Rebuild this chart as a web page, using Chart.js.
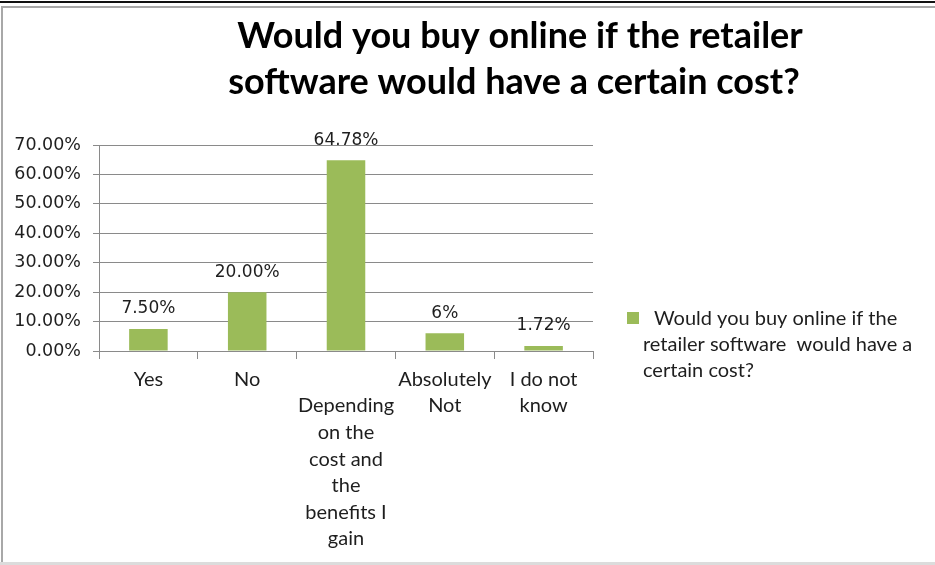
<!DOCTYPE html>
<html>
<head>
<meta charset="utf-8">
<script src="https://cdn.jsdelivr.net/npm/chart.js@4/dist/chart.umd.min.js"></script>
<style>
  html, body { margin: 0; padding: 0; background: #fff; }
  #wrap { width: 935px; height: 565px; position: relative; }
</style>
</head>
<body>
<div id="wrap"><canvas id="c" width="935" height="565"></canvas></div>
<script>
// Survey answers and the share of respondents for each
const categories = [
  ['Yes'],
  ['No'],
  ['', 'Depending', 'on the', 'cost and', 'the', 'benefits I', 'gain'],
  ['Absolutely', 'Not'],
  ['I do not', 'know']
];
const shares = [7.5, 20.0, 64.78, 6, 1.72];
const shareLabels = ['7.50%', '20.00%', '64.78%', '6%', '1.72%'];
const yTicks = [0, 10, 20, 30, 40, 50, 60, 70];
const titleLines = ['Would you buy online if the retailer', 'software would have a certain cost?'];
const legendLines = ['Would you buy online if the', 'retailer software  would have a', 'certain cost?'];

const GREEN = '#9BBB59';
const GRID = '#8a8a8a';
const INK = '#1e1e1e';
const SANS = "'Lato', 'Open Sans', sans-serif";
const NUM = "'DejaVu Sans', Verdana, sans-serif";

// Frame, title, legend and value labels drawn around the plot
const decorations = {
  id: 'decorations',
  beforeDraw(chart) {
    const ctx = chart.ctx;
    ctx.save();
    ctx.fillStyle = '#fff';
    ctx.fillRect(0, 0, chart.width, chart.height);
    // sheet edge and chart frame
    ctx.fillStyle = '#111';
    ctx.fillRect(0, 1, chart.width, 2);
    ctx.fillStyle = '#a8a8a8';
    ctx.fillRect(2, 6, chart.width - 2, 2);
    ctx.fillRect(1, 6, 2, chart.height - 6);
    ctx.fillStyle = '#dcdcdc';
    ctx.fillRect(0, chart.height - 3, chart.width, 3);
    ctx.restore();
  },
  afterDraw(chart) {
    const ctx = chart.ctx;
    ctx.save();
    // title
    ctx.fillStyle = '#000';
    ctx.font = "bold 36px " + SANS;
    ctx.textAlign = 'center';
    ctx.textBaseline = 'middle';
    ctx.fillText(titleLines[0], 520, 36);
    ctx.fillText(titleLines[1], 514, 82);

    // value labels above each bar
    const meta = chart.getDatasetMeta(0);
    ctx.font = "17px " + NUM;
    ctx.fillStyle = INK;
    meta.data.forEach((bar, i) => {
      ctx.fillText(shareLabels[i], bar.x, bar.y - 20);
    });

    // legend
    ctx.fillStyle = GREEN;
    ctx.fillRect(627, 312, 12, 12);
    ctx.fillStyle = INK;
    ctx.font = "20px " + SANS;
    ctx.textAlign = 'left';
    ctx.fillText(legendLines[0], 654, 319);
    ctx.fillText(legendLines[1], 643, 345);
    ctx.fillText(legendLines[2], 643, 371);
    ctx.restore();
  }
};

new Chart(document.getElementById('c'), {
  type: 'bar',
  data: {
    labels: categories,
    datasets: [{
      label: legendLines.join(' '),
      data: shares,
      backgroundColor: GREEN,
      borderWidth: 0,
      categoryPercentage: 1.0,
      barPercentage: 0.39
    }]
  },
  options: {
    responsive: false,
    animation: false,
    devicePixelRatio: 1,
    layout: { padding: { left: 0, top: 145, right: 935 - 593, bottom: 0 } },
    plugins: {
      legend: { display: false },
      title: { display: false },
      tooltip: { enabled: false }
    },
    scales: {
      x: {
        grid: {
          offset: true,
          drawOnChartArea: false,
          drawTicks: true,
          tickLength: 8,
          color: GRID
        },
        border: { display: true, color: GRID, width: 1 },
        ticks: {
          color: INK,
          padding: 7,
          maxRotation: 0,
          autoSkip: false,
          font: { family: SANS, size: 20, lineHeight: 1.33 }
        },
        afterFit(scale) { scale.height = 565 - 351; }
      },
      y: {
        min: 0,
        max: 70,
        afterBuildTicks(scale) { scale.ticks = yTicks.map(v => ({ value: v })); },
        grid: {
          color: GRID,
          lineWidth: 1,
          drawTicks: true,
          tickLength: 6
        },
        border: { display: true, color: GRID, width: 1 },
        ticks: {
          color: INK,
          padding: 12,
          font: { family: NUM, size: 17.5 },
          callback: v => v.toFixed(2) + '%'
        },
        afterFit(scale) { scale.width = 99; }
      }
    }
  },
  plugins: [decorations]
});
</script>
</body>
</html>
